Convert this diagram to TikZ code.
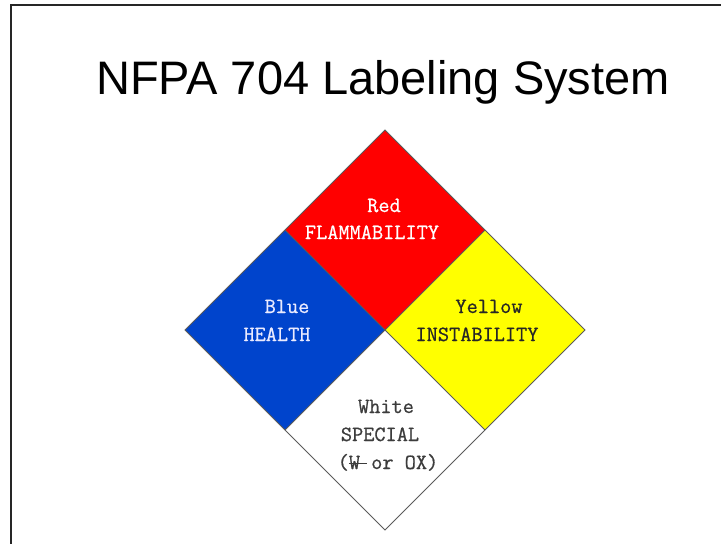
\documentclass[tikz,border=0pt]{standalone}
\usepackage{fontspec}
\setmainfont{Liberation Sans}
\newfontfamily\lblfont[FakeBold=0.7]{Latin Modern Mono}
\definecolor{nfred}{RGB}{255,0,0}
\definecolor{nfblue}{RGB}{0,68,204}
\definecolor{nfyellow}{RGB}{255,255,0}
\definecolor{edgegray}{RGB}{90,90,90}
\definecolor{txtgray}{RGB}{60,60,60}
\tikzset{
  quad/.style={draw=edgegray, line width=0.8pt, line join=miter},
  lbl/.style={font=\lblfont\fontsize{21.7}{24}\selectfont, anchor=base, inner sep=0pt},
  frameline/.style={line width=1.6pt, draw=black!85}
}
\begin{document}
\begin{tikzpicture}[x=1pt,y=-1pt]
\useasboundingbox (0,0) rectangle (721,544);
% frame
\coordinate (fa) at (11,544);
\coordinate (fb) at (11,5);
\coordinate (fc) at (721,5);
\draw[frameline] (fa) -- (fb) -- (fc);
% title
\node[anchor=base, inner sep=0pt, font=\fontsize{47}{50}\selectfont] (title) at (383,94) {NFPA 704 Labeling System};
% diamond vertices
\coordinate (T) at (385,130);
\coordinate (L) at (185,330);
\coordinate (R) at (585,330);
\coordinate (B) at (385,530);
\coordinate (C) at (385,330);
\coordinate (TL) at (285,230);
\coordinate (TR) at (485,230);
\coordinate (BL) at (285,430);
\coordinate (BR) at (485,430);
\fill[nfred] (T) -- (TR) -- (C) -- (TL) -- cycle;
\fill[nfblue] (TL) -- (C) -- (BL) -- (L) -- cycle;
\fill[nfyellow] (TR) -- (R) -- (BR) -- (C) -- cycle;
\fill[white] (C) -- (BR) -- (B) -- (BL) -- cycle;
\draw[quad] (T) -- (R) -- (B) -- (L) -- cycle;
\draw[quad] (TL) -- (BR);
\draw[quad] (TR) -- (BL);
% labels
\node[lbl, text=white] (red1) at (384,212) {Red};
\node[lbl, text=white] (red2) at (372,239) {FLAMMABILITY};
\node[lbl, text=white!92!blue] (blue1) at (287,313) {Blue};
\node[lbl, text=white!92!blue] (blue2) at (277,341) {HEALTH};
\node[lbl, text=black!85] (yel1) at (489,313) {Yellow};
\node[lbl, text=black!85] (yel2) at (477,341) {INSTABILITY};
\node[lbl, text=txtgray] (wh1) at (386,413) {White};
\node[lbl, text=txtgray] (wh2) at (380,441) {SPECIAL};
\node[lbl, text=txtgray] (wh3) at (388,469) {(\rlap{\rule[5pt]{18pt}{1.2pt}}W or OX)};
\end{tikzpicture}
\end{document}
